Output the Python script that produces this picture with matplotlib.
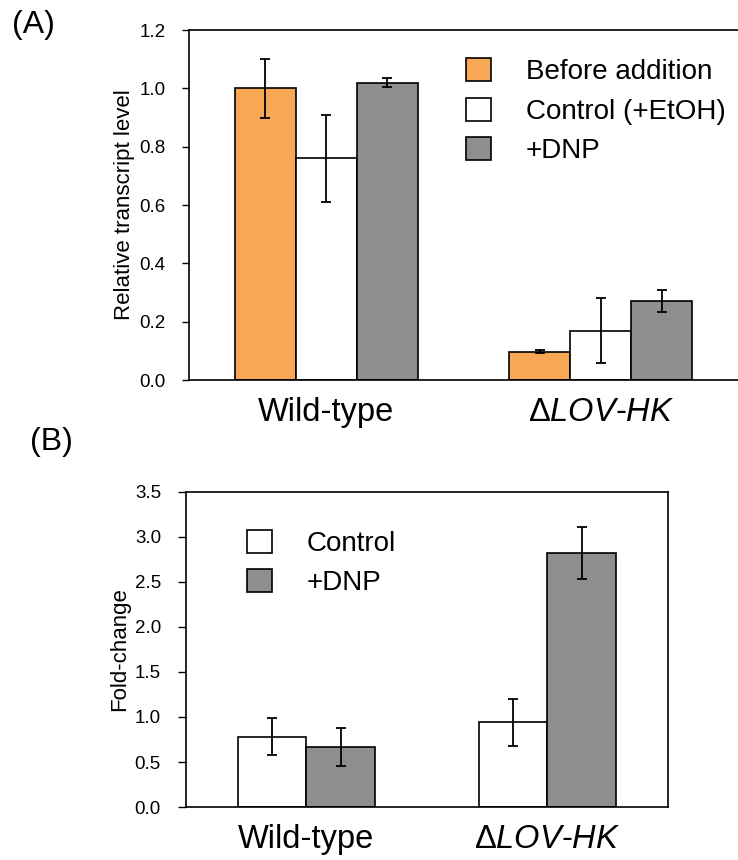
import matplotlib.pyplot as plt
import numpy as np

plt.rcParams['font.family'] = ['Liberation Sans', 'DejaVu Sans']
plt.rcParams['mathtext.fontset'] = 'custom'
plt.rcParams['mathtext.rm'] = 'Liberation Sans'
plt.rcParams['mathtext.it'] = 'Liberation Sans:italic'

strains = ["Wild-type", r"$\Delta\mathit{LOV}$-$\mathit{HK}$"]

# panel A: relative transcript level
a_labels = ["Before addition", "Control (+EtOH)", "+DNP"]
a_before = [1.00, 0.097]
a_before_err = [0.10, 0.005]
a_control = [0.76, 0.17]
a_control_err = [0.15, 0.11]
a_dnp = [1.02, 0.272]
a_dnp_err = [0.015, 0.038]

# panel B: fold-change
b_labels = ["Control", "+DNP"]
b_control = [0.78, 0.94]
b_control_err = [0.205, 0.26]
b_dnp = [0.67, 2.82]
b_dnp_err = [0.21, 0.29]

orange = "#F8A755"
gray = "#8E8E8E"
ekw = dict(elinewidth=1.3, capsize=3.5, capthick=1.3, ecolor="black")

fig = plt.figure(figsize=(7.38, 8.6), dpi=100)

# ---- (A)
axA = fig.add_axes([0.256, 0.558, 0.744, 0.407])
x = np.arange(len(strains))
w = 0.222
axA.bar(x - w, a_before, w, yerr=a_before_err, color=orange, edgecolor="black",
        linewidth=1.2, error_kw=ekw, label=a_labels[0])
axA.bar(x, a_control, w, yerr=a_control_err, color="white", edgecolor="black",
        linewidth=1.2, error_kw=ekw, label=a_labels[1])
axA.bar(x + w, a_dnp, w, yerr=a_dnp_err, color=gray, edgecolor="black",
        linewidth=1.2, error_kw=ekw, label=a_labels[2])
axA.set_xlim(-0.5, 1.5)
axA.set_ylim(0, 1.2)
axA.set_yticks(np.arange(0, 1.21, 0.2))
axA.set_yticklabels([f"{v:.1f}" for v in np.arange(0, 1.21, 0.2)])
axA.set_xticks(x)
axA.set_xticklabels(strains, fontsize=23.5)
axA.tick_params(axis="x", length=0, pad=12)
axA.tick_params(axis="y", labelsize=13.5, length=5, width=1, direction="out", pad=12)
axA.set_ylabel("Relative transcript level", fontsize=16, labelpad=3)
axA.spines["right"].set_visible(False)
for s in axA.spines.values():
    s.set_linewidth(1.2)
axA.legend(loc="upper left", bbox_to_anchor=(0.505, 0.92), frameon=False,
           fontsize=20, handlelength=0.9, handleheight=0.9,
           handletextpad=1.25, labelspacing=0.45, borderpad=0, borderaxespad=0)
fig.text(0.016, 0.988, "(A)", fontsize=23, va="top")

# ---- (B)
axB = fig.add_axes([0.252, 0.0616, 0.653, 0.3664])
w2 = 0.283
axB.bar(x - w2 / 2, b_control, w2, yerr=b_control_err, color="white",
        edgecolor="black", linewidth=1.2, error_kw=ekw, label=b_labels[0])
axB.bar(x + w2 / 2, b_dnp, w2, yerr=b_dnp_err, color=gray,
        edgecolor="black", linewidth=1.2, error_kw=ekw, label=b_labels[1])
axB.set_xlim(-0.5, 1.5)
axB.set_ylim(0, 3.5)
axB.set_yticks(np.arange(0, 3.51, 0.5))
axB.set_yticklabels([f"{v:.1f}" for v in np.arange(0, 3.51, 0.5)])
axB.set_xticks(x)
axB.set_xticklabels(strains, fontsize=23.5)
axB.tick_params(axis="x", length=0, pad=12)
axB.tick_params(axis="y", labelsize=13.5, length=6, width=1, direction="out", pad=12)
axB.set_ylabel("Fold-change", fontsize=16, labelpad=3)
for s in axB.spines.values():
    s.set_linewidth(1.2)
axB.legend(loc="upper left", bbox_to_anchor=(0.127, 0.88), frameon=False,
           fontsize=20, handlelength=0.9, handleheight=0.9,
           handletextpad=1.25, labelspacing=0.45, borderpad=0, borderaxespad=0)
fig.text(0.04, 0.503, "(B)", fontsize=23, va="top")

fig.savefig("out.png", dpi=100)
